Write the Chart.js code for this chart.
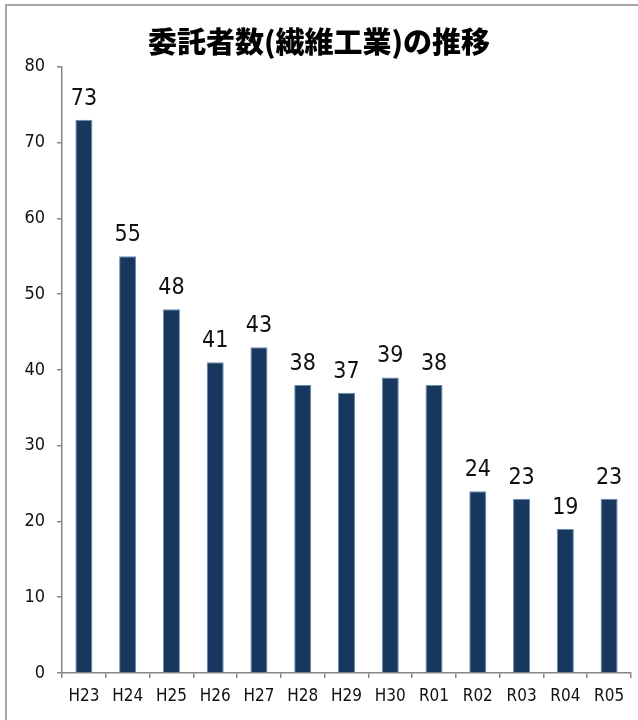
<!DOCTYPE html>
<html>
<head>
<meta charset="utf-8">
<script src="https://cdn.jsdelivr.net/npm/chart.js@4/dist/chart.umd.min.js"></script>
<style>
  html, body { margin: 0; padding: 0; background: #fff; overflow: hidden; }
  #wrap { position: relative; width: 638px; height: 720px; }
  #frame {
    position: absolute; left: 5px; top: 4px; width: 700px; height: 800px;
    border-left: 2px solid #a6a6a6; border-top: 2px solid #a6a6a6;
  }
  canvas { position: absolute; left: 0; top: 0; }
</style>
</head>
<body>
<div id="wrap">
  <div id="frame"></div>
  <canvas id="chart" width="638" height="720"></canvas>
</div>
<script>
// data
const years = ['H23', 'H24', 'H25', 'H26', 'H27', 'H28', 'H29', 'H30', 'R01', 'R02', 'R03', 'R04', 'R05'];
const consignors = [73, 55, 48, 41, 43, 38, 37, 39, 38, 24, 23, 19, 23];
const yTicks = [0, 10, 20, 30, 40, 50, 60, 70, 80];

const NARROW = "'Liberation Sans Narrow', 'Arial Narrow', 'DejaVu Sans Condensed', sans-serif";
const AXIS_GRAY = '#868686';

// value labels above each bar
const valueLabels = {
    id: 'valueLabels',
    afterDatasetsDraw(chart) {
        const ctx = chart.ctx;
        const meta = chart.getDatasetMeta(0);
        ctx.save();
        ctx.font = '23px ' + NARROW;
        ctx.fillStyle = '#111';
        ctx.textAlign = 'center';
        ctx.textBaseline = 'alphabetic';
        meta.data.forEach((bar, i) => {
            ctx.fillText(String(consignors[i]), bar.x, bar.y - 15);
        });
        ctx.restore();
    }
};

new Chart(document.getElementById('chart'), {
    type: 'bar',
    data: {
        labels: years,
        datasets: [{
            data: consignors,
            backgroundColor: '#17375e',
            borderColor: '#6f8bb3',
            borderWidth: 1,
            barPercentage: 0.39,
            categoryPercentage: 1
        }]
    },
    options: {
        responsive: false,
        animation: false,
        layout: { padding: { left: 7, right: 7, top: 0, bottom: 0 } },
        plugins: {
            legend: { display: false },
            tooltip: { enabled: false },
            title: {
                display: true,
                text: '委託者数(繊維工業)の推移',
                color: '#000',
                font: { family: "'Noto Sans CJK JP', sans-serif", size: 29, weight: 900, lineHeight: 1.2 },
                padding: { top: 25, bottom: 7 }
            }
        },
        scales: {
            x: {
                grid: {
                    offset: true,
                    drawOnChartArea: false,
                    drawTicks: true,
                    tickLength: 5,
                    color: AXIS_GRAY,
                    lineWidth: 1.5
                },
                border: { color: AXIS_GRAY, width: 1.5 },
                ticks: {
                    color: '#111',
                    font: { family: NARROW, size: 17 },
                    padding: 8,
                    maxRotation: 0
                },
                afterFit(scale) { scale.height = 47; }
            },
            y: {
                min: 0,
                max: 80,
                afterBuildTicks(scale) { scale.ticks = yTicks.map(v => ({ value: v })); },
                grid: {
                    drawOnChartArea: false,
                    drawTicks: true,
                    tickLength: 5,
                    color: AXIS_GRAY,
                    lineWidth: 1.5
                },
                border: { color: AXIS_GRAY, width: 1.5 },
                ticks: {
                    color: '#111',
                    font: { family: NARROW, size: 18 },
                    padding: 12
                },
                afterFit(scale) { scale.width = 55; }
            }
        }
    },
    plugins: [valueLabels]
});
</script>
</body>
</html>
